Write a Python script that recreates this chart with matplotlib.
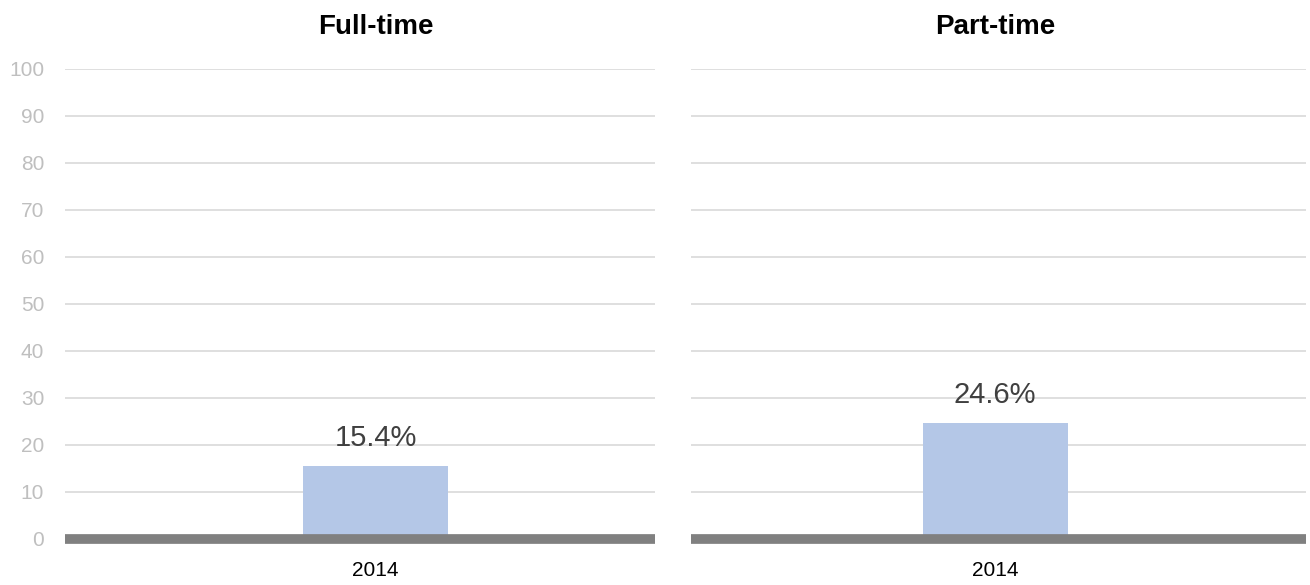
import matplotlib
matplotlib.use("Agg")
import matplotlib.pyplot as plt
import matplotlib.transforms as mtransforms

plt.rcParams['font.family'] = ['Liberation Sans', 'DejaVu Sans']

panels = ["Full-time", "Part-time"]
years = ["2014"]
values = [[15.4], [24.6]]
yticks = [0, 10, 20, 30, 40, 50, 60, 70, 80, 90, 100]

W, H = 1310, 585
fig = plt.figure(figsize=(W / 100, H / 100), dpi=100)

ax_bottom = (H - 538.5) / H
ax_height = (538.5 - 69) / H
axes_px = [(65, 655, 375.5), (691, 1306, 995.2)]
bar_px = 145.0

for i, (name, vals) in enumerate(zip(panels, values)):
    x0, x1, xc = axes_px[i]
    ax = fig.add_axes([x0 / W, ax_bottom, (x1 - x0) / W, ax_height])
    xs = list(range(len(years)))
    ax.bar(xs, vals, width=1.0, color="#B4C7E7", zorder=2)
    ax.set_xlim((x0 - xc) / bar_px, (x1 - xc) / bar_px)
    ax.set_ylim(0, 100)
    ax.set_yticks(yticks)
    for y in yticks[1:]:
        ax.axhline(y, color="#D9D9D9", lw=1.2, zorder=1)
    ax.axhline(0, color="#808080", lw=7, zorder=3, clip_on=False,
               solid_capstyle="butt")
    for s in ax.spines.values():
        s.set_visible(False)
    ax.set_xticks(xs)
    ax.set_xticklabels(years, fontsize=15, color="#000000")
    ax.tick_params(axis="x", length=0, pad=16)
    if i == 0:
        ax.set_yticklabels([str(v) for v in yticks], fontsize=15, color="#BFBFBF")
        ax.tick_params(axis="y", length=0, pad=15)
    else:
        ax.tick_params(axis="y", length=0, labelleft=False)
    for x, v in zip(xs, vals):
        ax.annotate(f"{v}%", (x, v), xytext=(0, 14.5), textcoords="offset points",
                    ha="center", va="baseline", fontsize=21, color="#404040")
    trans = mtransforms.blended_transform_factory(ax.transData, ax.transAxes)
    ax.text(0, 1 + 35 / 469.5, name, transform=trans, ha="center", va="baseline",
            fontsize=20, fontweight="bold", color="#000000")

fig.savefig("out.png", dpi=100)
